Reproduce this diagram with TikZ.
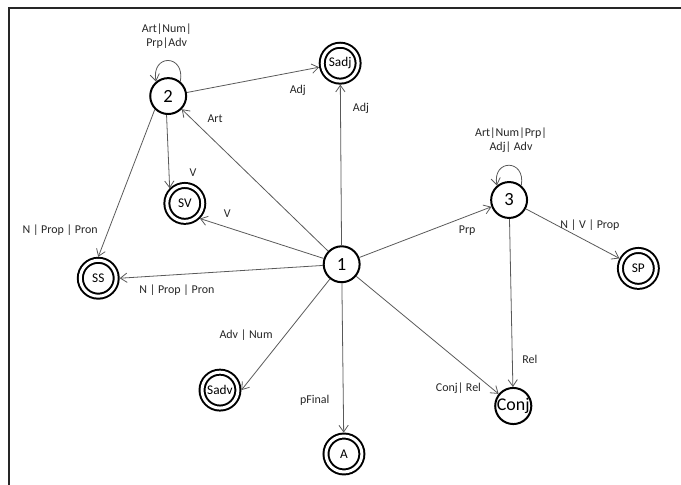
\documentclass[tikz,border=0pt]{standalone}
\usepackage{fontspec}
\setmainfont{Carlito}
\usetikzlibrary{arrows.meta}
\tikzset{
  plain/.style={circle,draw,line width=1.5pt,minimum size=0.95cm,inner sep=0pt,font=\fontsize{14}{14}\selectfont},
  final/.style={circle,draw,double,line width=1.5pt,double distance=2.25pt,outer sep=2.6pt,minimum size=0.95cm,inner sep=0pt,font=\fontsize{10}{10}\selectfont},
  trans/.style={draw=black!65,line width=0.6pt,-{Straight Barb[length=5pt,width=7pt]}},
  lbl/.style={font=\fontsize{9}{10.5}\selectfont,text=black!85,align=center,inner sep=0pt}
}
\begin{document}
\begin{tikzpicture}
  \useasboundingbox (0,0) rectangle (18.018,12.832);
  \draw [line width=1.5pt, black!85] (0.25,0) -- (0.25,12.63) -- (18.02,12.63);
  % states
  \node [plain] (n1) at (9.04,5.84) {1};
  \node [plain] (n2) at (4.45,10.29) {2};
  \node [plain] (n3) at (13.47,7.54) {3};
  \node [plain, font=\fontsize{13.5}{13.5}\selectfont] (nConj) at (13.58,2.09) {Conj};
  \node [final] (nSadj) at (9.00,11.16) {Sadj};
  \node [final] (nSV) at (4.89,7.45) {SV};
  \node [final] (nSS) at (2.60,5.47) {SS};
  \node [final] (nSP) at (16.89,5.73) {SP};
  \node [final] (nSadv) at (5.82,2.51) {Sadv};
  \node [final] (nA) at (9.10,0.82) {A};
  % transitions
  \draw [trans] (n2.50) to [out=80,in=100,distance=0.75cm] (n2.130) node [lbl] at (4.41,11.88) {Art|Num|\\Prp|Adv};
  \draw [trans] (n3.50) to [out=80,in=100,distance=0.72cm] (n3.130) node [lbl] at (13.52,9.12) {Art|Num|Prp|\\Adj| Adv};
  \draw [trans] (n1) -- (n2) node [lbl] at (5.69,9.68) {Art};
  \draw [trans] (n2) -- (nSadj) node [lbl] at (7.88,10.45) {Adj};
  \draw [trans] (n1) -- (nSadj) node [lbl] at (9.55,9.97) {Adj};
  \draw [trans] (n2.265) -- (nSV.135) node [lbl] at (5.11,8.27) {V};
  \draw [trans] (n1) -- (nSV.-45) node [lbl] at (6.01,7.17) {V};
  \draw [trans] (n2.225) -- (nSS.north) node [lbl] at (1.59,6.75) {N | Prop | Pron};
  \draw [trans] (n1) -- (nSS.east) node [lbl] at (4.68,5.16) {N | Prop | Pron};
  \draw [trans] (n1) -- (n3) node [lbl] at (12.36,6.72) {Prp};
  \draw [trans] (n3) -- (nSP) node [lbl] at (15.61,6.88) {N | V | Prop};
  \draw [trans] (n3) -- (nConj) node [lbl] at (14.02,3.33) {Rel};
  \draw [trans] (n1) -- (nConj) node [lbl] at (12.13,2.56) {Conj| Rel};
  \draw [trans] (n1) -- (nSadv.east) node [lbl] at (6.51,3.97) {Adv | Num};
  \draw [trans] (n1) -- (nA) node [lbl] at (8.33,2.25) {pFinal};
\end{tikzpicture}
\end{document}
